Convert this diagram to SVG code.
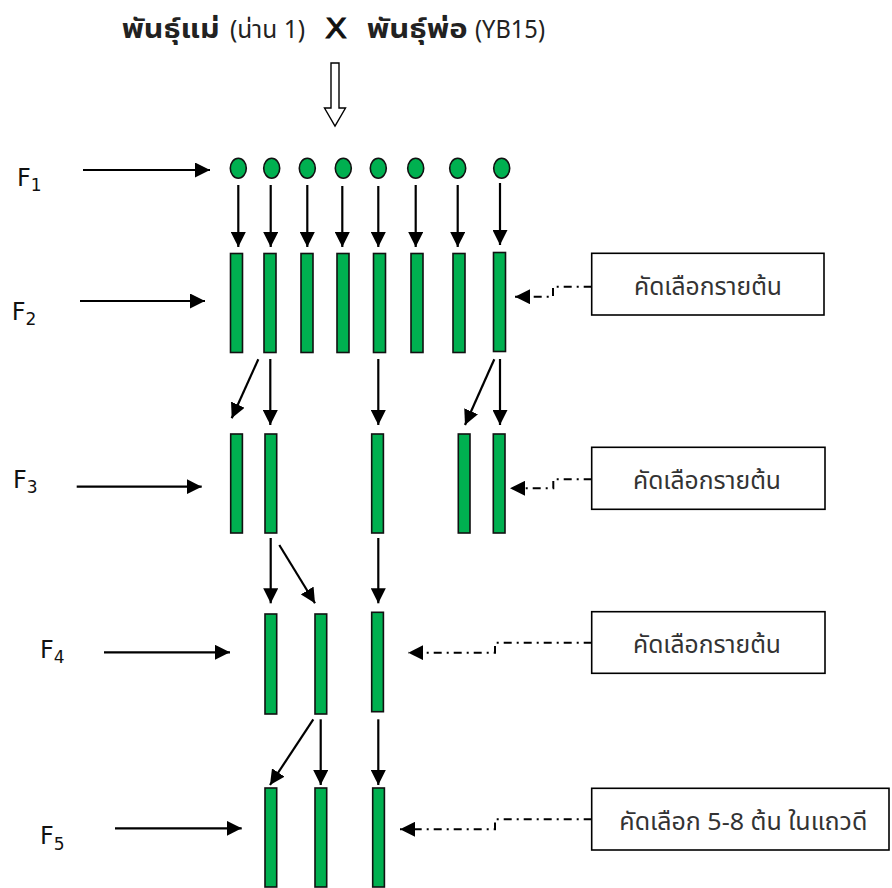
<svg xmlns="http://www.w3.org/2000/svg" width="892" height="888" viewBox="0 0 892 888">
  <style>
    .thai { font-family: "Noto Sans Thai", "Tahoma", "Leelawadee UI", "DejaVu Sans", "Liberation Sans", sans-serif; fill: #222; }
    .gen { font-family: "DejaVu Sans", "Liberation Sans", sans-serif; fill: #111; }
    .seed { fill: #00B050; stroke: #111; stroke-width: 1.6; }
    .plant { fill: #00B050; stroke: #111; stroke-width: 1.6; }
    .arrow { stroke: #000; stroke-width: 2.2; fill: none; marker-end: url(#head); }
    .dash { stroke: #000; stroke-width: 2; fill: none; stroke-dasharray: 8 5 2 5; marker-end: url(#head); }
    .box { fill: #fff; stroke: #000; stroke-width: 1.6; }
    .note { font-size: 24px; fill: #333; }
  </style>
  <defs>
    <marker id="head" markerUnits="userSpaceOnUse" markerWidth="15" markerHeight="15" refX="15" refY="7.5" orient="auto">
      <path d="M0,0 L15,7.5 L0,15 z" fill="#000"/>
    </marker>
  </defs>

  <rect width="892" height="888" fill="#fff"/>

  <!-- cross heading -->
  <g id="title">
    <text class="thai" x="121.7" y="38" font-size="26" font-weight="bold" textLength="98" lengthAdjust="spacingAndGlyphs">พันธุ์แม่</text>
    <text class="thai" x="230" y="38" font-size="25" fill="#333" textLength="75" lengthAdjust="spacingAndGlyphs">(น่าน 1)</text>
    <text class="gen" x="325" y="38" font-size="27" stroke="#111" stroke-width="0.9" textLength="22" lengthAdjust="spacingAndGlyphs">X</text>
    <text class="thai" x="366.7" y="38" font-size="26" font-weight="bold" textLength="101" lengthAdjust="spacingAndGlyphs">พันธุ์พ่อ</text>
    <text class="thai" x="475" y="38" font-size="25" fill="#333" textLength="70" lengthAdjust="spacingAndGlyphs">(YB15)</text>
  </g>

  <!-- hollow down arrow -->
  <g id="cross-arrow">
    <path d="M331,63 H339 V108 H345.5 L335,126 L324.5,108 H331 Z" fill="#fff" stroke="#000" stroke-width="1.4"/>
  </g>

  <!-- generation labels -->
  <g id="labels" class="gen">
    <text x="17" y="186" font-size="24">F<tspan font-size="17" dy="5">1</tspan></text>
    <text x="11.7" y="320" font-size="24">F<tspan font-size="17" dy="5">2</tspan></text>
    <text x="13" y="488" font-size="24">F<tspan font-size="17" dy="5">3</tspan></text>
    <text x="40" y="658" font-size="24">F<tspan font-size="17" dy="5">4</tspan></text>
    <text x="40" y="844" font-size="24">F<tspan font-size="17" dy="6">5</tspan></text>
  </g>

  <!-- F1 seeds -->
  <g id="f1">
    <ellipse class="seed" cx="238.3" cy="168.3" rx="8" ry="10"/>
    <ellipse class="seed" cx="271.7" cy="168.3" rx="8" ry="10"/>
    <ellipse class="seed" cx="307.3" cy="168.3" rx="8" ry="10"/>
    <ellipse class="seed" cx="343.3" cy="168.3" rx="8" ry="10"/>
    <ellipse class="seed" cx="378.3" cy="168.3" rx="8" ry="10"/>
    <ellipse class="seed" cx="415.7" cy="168.3" rx="8" ry="10"/>
    <ellipse class="seed" cx="457.7" cy="168.3" rx="8" ry="10"/>
    <ellipse class="seed" cx="501.7" cy="168.3" rx="8" ry="10"/>
  </g>

  <!-- F2 rows -->
  <g id="f2">
    <rect class="plant" x="230.5" y="253.5" width="12" height="99"/>
    <rect class="plant" x="264" y="253.5" width="12" height="99"/>
    <rect class="plant" x="301" y="253.5" width="12" height="99"/>
    <rect class="plant" x="337" y="253.5" width="12" height="99"/>
    <rect class="plant" x="373.5" y="253.5" width="12" height="99"/>
    <rect class="plant" x="411" y="253.5" width="12" height="99"/>
    <rect class="plant" x="453" y="253.5" width="12" height="99"/>
    <rect class="plant" x="493.5" y="252.5" width="12" height="99"/>
  </g>

  <!-- F3 rows -->
  <g id="f3">
    <rect class="plant" x="230.7" y="434" width="11.7" height="99"/>
    <rect class="plant" x="265" y="434" width="11.7" height="99"/>
    <rect class="plant" x="371.7" y="434" width="11.7" height="99"/>
    <rect class="plant" x="458.3" y="434" width="11.7" height="99"/>
    <rect class="plant" x="493.3" y="434" width="11.7" height="99"/>
  </g>

  <!-- F4 rows -->
  <g id="f4">
    <rect class="plant" x="265" y="614" width="11.7" height="100"/>
    <rect class="plant" x="315" y="614" width="11.7" height="100"/>
    <rect class="plant" x="371.7" y="612.3" width="11.7" height="99.4"/>
  </g>

  <!-- F5 rows -->
  <g id="f5">
    <rect class="plant" x="265" y="788" width="11.7" height="99"/>
    <rect class="plant" x="315" y="788" width="11.7" height="99"/>
    <rect class="plant" x="372.7" y="788" width="11.7" height="99"/>
  </g>

  <!-- selection notes -->
  <g id="note-f2">
    <rect class="box" x="591.7" y="253.3" width="232.3" height="61.7"/>
    <text class="thai note" x="634" y="295" textLength="148" lengthAdjust="spacingAndGlyphs">คัดเลือกรายต้น</text>
  </g>
  <g id="note-f3">
    <rect class="box" x="591.7" y="447.3" width="233.3" height="62"/>
    <text class="thai note" x="633" y="489" textLength="148" lengthAdjust="spacingAndGlyphs">คัดเลือกรายต้น</text>
  </g>
  <g id="note-f4">
    <rect class="box" x="591.7" y="611.7" width="233.3" height="61.6"/>
    <text class="thai note" x="633" y="653" textLength="148" lengthAdjust="spacingAndGlyphs">คัดเลือกรายต้น</text>
  </g>
  <g id="note-f5">
    <rect class="box" x="591.7" y="788.3" width="297.3" height="61.7"/>
    <text class="thai note" x="619.3" y="830" textLength="248" lengthAdjust="spacingAndGlyphs">คัดเลือก 5-8 ต้น ในแถวดี</text>
  </g>

  <!-- connectors -->
  <g id="connectors">
    <!-- generation pointers -->
    <line class="arrow" x1="83" y1="170" x2="210" y2="170"/>
    <line class="arrow" x1="80" y1="301" x2="205" y2="301"/>
    <line class="arrow" x1="76.7" y1="486.7" x2="201.7" y2="486.7"/>
    <line class="arrow" x1="104" y1="652.3" x2="230" y2="652.3"/>
    <line class="arrow" x1="115" y1="828.3" x2="241.7" y2="828.3"/>

    <!-- F1 to F2 -->
    <line class="arrow" x1="238.3" y1="185" x2="238.3" y2="247"/>
    <line class="arrow" x1="270.7" y1="185" x2="270.7" y2="247"/>
    <line class="arrow" x1="307.3" y1="185" x2="307.3" y2="247"/>
    <line class="arrow" x1="342.3" y1="186" x2="342.3" y2="247"/>
    <line class="arrow" x1="378.3" y1="186" x2="378.3" y2="247"/>
    <line class="arrow" x1="415.7" y1="185" x2="415.7" y2="247"/>
    <line class="arrow" x1="457.7" y1="185" x2="457.7" y2="247"/>
    <line class="arrow" x1="500" y1="183" x2="500" y2="245"/>

    <!-- F2 to F3 -->
    <line class="arrow" x1="258.3" y1="359.3" x2="231.7" y2="418.3"/>
    <line class="arrow" x1="270.3" y1="359" x2="270.3" y2="425"/>
    <line class="arrow" x1="378.3" y1="359" x2="378.3" y2="425"/>
    <line class="arrow" x1="494.3" y1="359.3" x2="465" y2="425"/>
    <line class="arrow" x1="500" y1="359" x2="500" y2="425"/>

    <!-- F3 to F4 -->
    <line class="arrow" x1="270.7" y1="538" x2="270.7" y2="603.3"/>
    <line class="arrow" x1="279.3" y1="545" x2="315" y2="603.3"/>
    <line class="arrow" x1="378.3" y1="538" x2="378.3" y2="603.3"/>

    <!-- F4 to F5 -->
    <line class="arrow" x1="313.3" y1="719.3" x2="270" y2="785"/>
    <line class="arrow" x1="320.7" y1="719.3" x2="320.7" y2="785"/>
    <line class="arrow" x1="378.3" y1="719.3" x2="378.3" y2="785"/>

    <!-- selection pointers -->
    <path class="dash" d="M591.7,286.7 H553 V296.7 H515"/>
    <path class="dash" d="M591.7,479.3 H553.3 V488.3 H510"/>
    <path class="dash" d="M591.7,642.7 H495 V652.7 H408.3"/>
    <path class="dash" d="M591.7,819.3 H495 V829.3 H400"/>
  </g>
</svg>
